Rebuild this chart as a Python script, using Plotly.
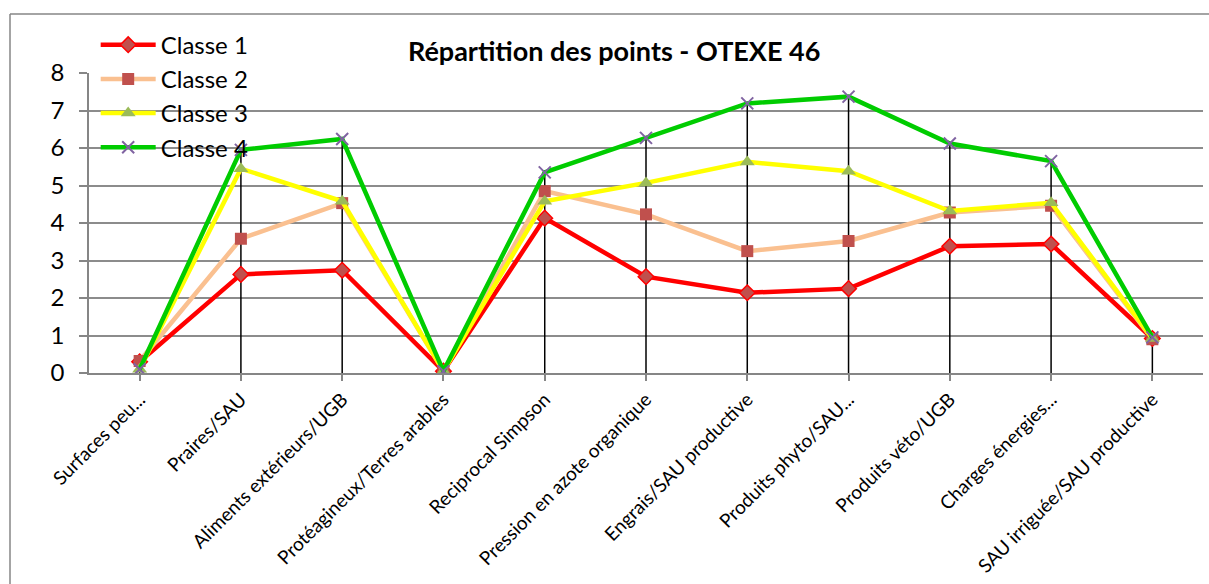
import plotly.graph_objects as go

categories = ["Surfaces peu...", "Praires/SAU", "Aliments extérieurs/UGB",
              "Protéagineux/Terres arables", "Reciprocal Simpson",
              "Pression en azote organique", "Engrais/SAU productive",
              "Produits phyto/SAU...", "Produits véto/UGB", "Charges énergies...",
              "SAU irriguée/SAU productive"]
classe1 = [0.30, 2.63, 2.74, 0.05, 4.13, 2.57, 2.14, 2.25, 3.38, 3.44, 0.92]
classe2 = [0.32, 3.58, 4.53, 0.05, 4.85, 4.23, 3.25, 3.52, 4.28, 4.46, 0.90]
classe3 = [0.10, 5.45, 4.58, 0.05, 4.58, 5.07, 5.63, 5.38, 4.32, 4.54, 0.92]
classe4 = [0.10, 5.95, 6.24, 0.05, 5.35, 6.27, 7.19, 7.37, 6.12, 5.65, 0.95]
yticks = [0, 1, 2, 3, 4, 5, 6, 7, 8]

FONT = "Lato"
fig = go.Figure()

# drop lines from axis to the highest point of each category
dx, dy = [], []
for i, c in enumerate(categories):
    top = max(classe1[i], classe2[i], classe3[i], classe4[i])
    dx += [c, c, None]
    dy += [0, top, None]
fig.add_trace(go.Scatter(x=dx, y=dy, mode="lines", line=dict(color="black", width=1.5),
                         showlegend=False, hoverinfo="skip"))

series = [
    ("Classe 1", classe1, "#FF0000", dict(symbol="diamond", size=12, color="#C0504D",
                                          line=dict(color="#FF0000", width=1.5))),
    ("Classe 2", classe2, "#FAC090", dict(symbol="square", size=12, color="#C0504D",
                                          line=dict(color="#C0504D", width=0))),
    ("Classe 3", classe3, "#FFFF00", dict(symbol="triangle-up", size=13, color="#9BBB59",
                                          line=dict(color="#9BBB59", width=0))),
    ("Classe 4", classe4, "#00CC00", dict(symbol="x-thin", size=12, color="#8064A2",
                                          line=dict(color="#8064A2", width=2))),
]
for name, vals, col, mk in series:
    fig.add_trace(go.Scatter(x=categories, y=vals, name=name, mode="lines+markers",
                             line=dict(color=col, width=4.5), marker=mk))

fig.update_layout(
    width=1209, height=584,
    paper_bgcolor="white", plot_bgcolor="white",
    margin=dict(l=89, r=6, t=73, b=211, autoexpand=False),
    font=dict(family=FONT, color="black"),
    title=dict(text="<b>Répartition des points - OTEXE 46</b>", x=0.508, xanchor="center",
               y=0.911, yanchor="middle", font=dict(size=27, family=FONT, color="black")),
    legend=dict(x=0.006, y=1.168, xanchor="left", yanchor="top", bgcolor="rgba(0,0,0,0)",
                font=dict(size=24, family=FONT), tracegroupgap=0, itemwidth=55,
                traceorder="normal"),
    showlegend=True,
)
fig.update_xaxes(type="category", categoryorder="array", categoryarray=categories,
                 range=[-0.5, len(categories) - 0.5], automargin=False,
                 showgrid=False, showline=True, linecolor="#868686", linewidth=2,
                 ticks="outside", ticklen=6, tickcolor="#868686", tickwidth=1.5,
                 tickangle=-45, tickfont=dict(size=19, family=FONT))
fig.update_yaxes(range=[0, 8], tickvals=yticks, showgrid=True, gridcolor="#8C8C8C",
                 gridwidth=1.5, showline=True, linecolor="#868686", linewidth=1.5,
                 ticks="outside", ticklen=8, tickcolor="#868686", tickwidth=1.5,
                 automargin=False, ticklabelstandoff=10,
                 zeroline=False, tickfont=dict(size=24, family=FONT))

# outer chart border (top and left edges visible)
fig.add_shape(type="line", xref="paper", yref="paper", x0=-79/1114, x1=1.01,
              y0=1 + 59/300, y1=1 + 59/300, line=dict(color="#868686", width=1.5))
fig.add_shape(type="line", xref="paper", yref="paper", x0=-79/1114, x1=-79/1114,
              y0=1 + 59/300, y1=-0.8, line=dict(color="#868686", width=1.5))

fig.write_html("out.html", config={"displayModeBar": False},
               post_script="document.body.style.margin='0';")
